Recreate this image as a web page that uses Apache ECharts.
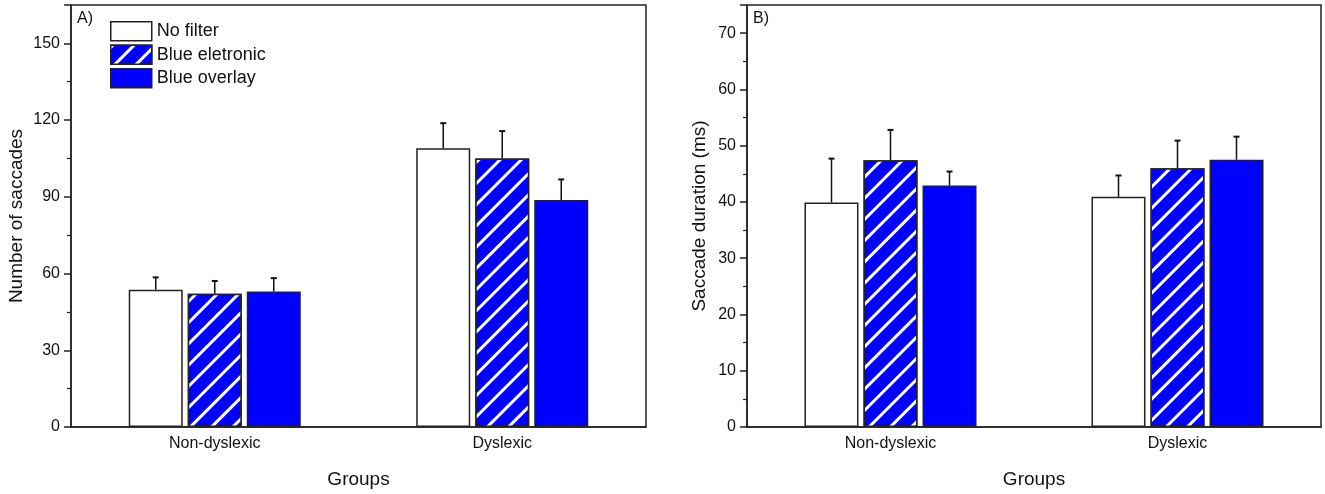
<!DOCTYPE html>
<html>
<head>
<meta charset="utf-8">
<script src="https://cdn.jsdelivr.net/npm/echarts@6/dist/echarts.min.js"></script>
<style>
  html, body { margin: 0; padding: 0; background: #fff; }
  #chart { width: 1325px; height: 494px; }
</style>
</head>
<body>
<div id="chart"></div>
<script>
// data
var groups = ['Non-dyslexic', 'Dyslexic'];
var filters = ['No filter', 'Blue eletronic', 'Blue overlay'];

// A) number of saccades (mean, upper error)
var saccNoFilter = [53.7, 109.0];
var saccElectronic = [52.1, 105.0];
var saccOverlay = [53.0, 88.8];
var saccNoFilterErr = [4.8, 9.8];
var saccElectronicErr = [5.0, 10.7];
var saccOverlayErr = [5.2, 8.0];

// B) saccade duration in ms (mean, upper error)
var durNoFilter = [39.9, 40.9];
var durElectronic = [47.4, 46.0];
var durOverlay = [42.9, 47.5];
var durNoFilterErr = [7.8, 3.8];
var durElectronicErr = [5.4, 4.9];
var durOverlayErr = [2.5, 4.1];

var myChart = echarts.init(document.getElementById('chart'));

var font = 'Liberation Sans, Arial, sans-serif';
var ink = '#111';
var barW = 54;
var step = 59; // bar width + gap

var styles = [
  { color: '#fff', borderColor: '#222', borderWidth: 1.5 },
  {
    color: '#0000ff', borderColor: '#222', borderWidth: 1.5,
    decal: {
      symbol: 'rect',
      symbolSize: 1,
      dashArrayX: [1, 0],
      dashArrayY: [3, 12],
      rotation: -Math.PI / 4,
      color: '#fff'
    }
  },
  { color: '#0000ff', borderColor: '#222', borderWidth: 1.5 }
];

function errRender(offset) {
  return function (params, api) {
    var base = api.coord([api.value(0), api.value(1)]);
    var top = api.coord([api.value(0), api.value(1) + api.value(2)]);
    var x = base[0] + offset;
    return {
      type: 'group',
      children: [
        { type: 'line', shape: { x1: x, y1: base[1], x2: x, y2: top[1] }, style: { stroke: '#111', lineWidth: 1.5 } },
        { type: 'line', shape: { x1: x - 3, y1: top[1], x2: x + 3, y2: top[1] }, style: { stroke: '#111', lineWidth: 2 } }
      ]
    };
  };
}

function makeSeries(idx, means, errs) {
  var out = [];
  means.forEach(function (m, i) {
    out.push({
      type: 'bar',
      name: filters[i],
      xAxisIndex: idx,
      yAxisIndex: idx,
      data: m,
      barWidth: barW,
      barGap: '9.3%',
      itemStyle: styles[i],
      z: 2
    });
  });
  errs.forEach(function (e, i) {
    out.push({
      type: 'custom',
      xAxisIndex: idx,
      yAxisIndex: idx,
      renderItem: errRender((i - 1) * step),
      data: groups.map(function (g, k) { return [k, means[i][k], e[k]]; }),
      z: 1,
      silent: true
    });
  });
  return out;
}

function yAxis(idx, name, max, interval, gap) {
  return {
    type: 'value',
    gridIndex: idx,
    min: 0,
    max: max,
    interval: interval,
    name: name,
    nameLocation: 'middle',
    nameGap: gap,
    nameTextStyle: { fontFamily: font, fontSize: 19, color: ink },
    axisLine: { show: true, lineStyle: { color: '#222', width: 1.5 } },
    axisTick: { show: true, length: 7, lineStyle: { color: '#222', width: 1.5 } },
    minorTick: { show: true, splitNumber: 2, length: 4, lineStyle: { color: '#222', width: 1.2 } },
    splitLine: { show: false },
    axisLabel: {
      fontFamily: font, fontSize: 16, color: ink, margin: 11,
      showMaxLabel: false
    }
  };
}

function xAxis(idx) {
  return {
    type: 'category',
    gridIndex: idx,
    data: groups,
    name: 'Groups',
    nameLocation: 'middle',
    nameGap: 43,
    nameTextStyle: { fontFamily: font, fontSize: 19, color: ink },
    axisLine: { show: true, lineStyle: { color: '#222', width: 1.5 } },
    axisTick: { show: false },
    axisLabel: { fontFamily: font, fontSize: 16, color: ink, margin: 9 }
  };
}

option = {
  backgroundColor: '#fff',
  animation: false,
  grid: [
    { left: 71, right: 679, top: 5, bottom: 62, show: true, borderColor: '#222', borderWidth: 1.5 },
    { left: 747, right: 4, top: 5, bottom: 62, show: true, borderColor: '#222', borderWidth: 1.5 }
  ],
  legend: {
    data: filters,
    orient: 'vertical',
    left: 105,
    top: 16,
    icon: 'rect',
    itemWidth: 41,
    itemHeight: 19,
    itemGap: 3,
    itemStyle: { borderColor: '#222', borderWidth: 1.5 },
    selectedMode: false,
    textStyle: { fontFamily: font, fontSize: 18, color: ink }
  },
  graphic: [
    { type: 'text', left: 77, top: 11, style: { text: 'A)', font: '16px ' + font, fill: ink } },
    { type: 'text', left: 753, top: 11, style: { text: 'B)', font: '16px ' + font, fill: ink } }
  ],
  xAxis: [xAxis(0), xAxis(1)],
  yAxis: [
    yAxis(0, 'Number of saccades', 165, 30, 45),
    yAxis(1, 'Saccade duration (ms)', 75, 10, 38)
  ],
  series: makeSeries(0, [saccNoFilter, saccElectronic, saccOverlay], [saccNoFilterErr, saccElectronicErr, saccOverlayErr])
    .concat(makeSeries(1, [durNoFilter, durElectronic, durOverlay], [durNoFilterErr, durElectronicErr, durOverlayErr]))
};

myChart.setOption(option);
</script>
</body>
</html>
